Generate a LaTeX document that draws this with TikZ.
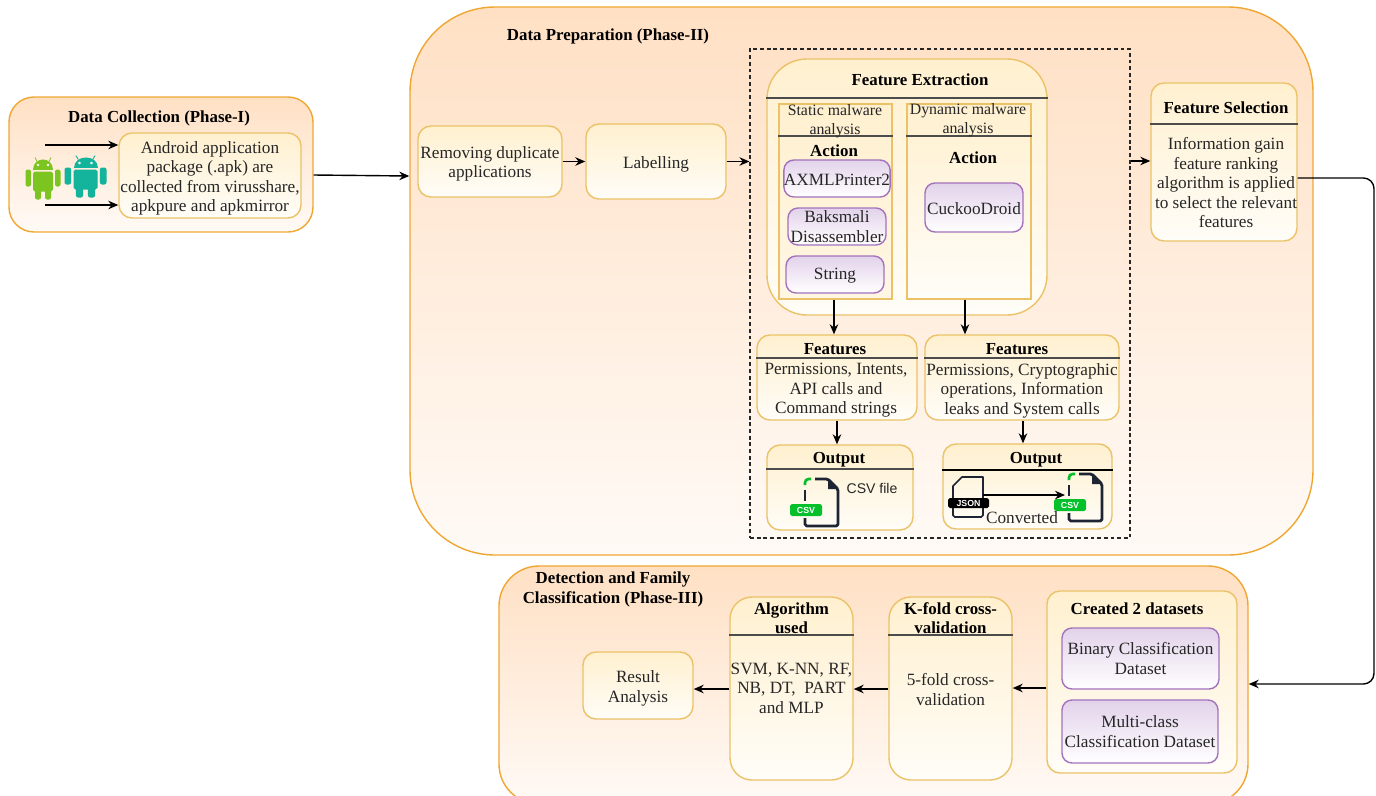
\documentclass[tikz,border=0pt]{standalone}
\usepackage{fontspec}
\setmainfont{Liberation Serif}
\setsansfont{Liberation Sans}
\usetikzlibrary{arrows.meta}

\definecolor{phaseline}{HTML}{F0A732}
\definecolor{phasetop}{HTML}{FFE0C4}
\definecolor{phasebottom}{HTML}{FFFAF6}
\definecolor{stepline}{HTML}{EBC268}
\definecolor{steptop}{HTML}{FFF0CF}
\definecolor{stepbottom}{HTML}{FFFDF8}
\definecolor{toolline}{HTML}{A472BC}
\definecolor{tooltop}{HTML}{E2D2EA}
\definecolor{badgegreen}{HTML}{05C02B}
\definecolor{docdark}{HTML}{1D2433}
\definecolor{droidgreen}{HTML}{7CC41F}
\definecolor{droidteal}{HTML}{14B39B}
\definecolor{bodytext}{HTML}{262626}

\tikzset{
  boxsize/.style 2 args={minimum width=#1*0.02cm,minimum height=#2*0.02cm},
  phasebox/.style={draw=phaseline,line width=0.8pt,top color=phasetop,bottom color=phasebottom,rounded corners=#1},
  phasebox/.default=0.5cm,
  stepbox/.style={draw=stepline,line width=0.8pt,top color=steptop,bottom color=stepbottom,rounded corners=#1,inner sep=0pt},
  stepbox/.default=0.26cm,
  toolbox/.style={draw=toolline,line width=0.8pt,top color=tooltop,bottom color=white,rounded corners=0.2cm,
    inner sep=0pt,align=center,text=bodytext,font=\fontsize{9.8}{11.1}\selectfont,
    execute at begin node={\rule{0pt}{7.9pt}}},
  title/.style={inner sep=0pt,align=center,yshift=-0.03cm,font=\fontsize{9.6}{11.1}\selectfont\bfseries},
  bodytxt/.style={inner sep=0pt,align=center,yshift=-0.02cm,text=bodytext,font=\fontsize{9.8}{11.1}\selectfont},
  headline/.style={draw=black!70,line width=0.8pt},
  flow/.style={draw=black,line width=0.8pt,-{Stealth[length=2mm,width=1.7mm]}},
  badge/.style={rounded corners=1pt,inner sep=0pt,text=white,font=\sffamily\bfseries\fontsize{5}{5}\selectfont}
}

\begin{document}
\begin{tikzpicture}[x=0.02cm,y=-0.02cm]
    \useasboundingbox (0,0) rectangle (1376,795);

    % The three phases
    \node[phasebox,boxsize={304}{135}] (phaseone) at (161,164.5) {};
    \node[phasebox=1.7cm,boxsize={903}{548}] (phasetwo) at (861.5,281) {};
    \node[phasebox=0.8cm,boxsize={749}{238}] (phasethree) at (873.5,685) {};
    \node[title] (titleone) at (159,117) {Data Collection (Phase-I)};
    \node[title] (titletwo) at (608,35) {Data Preparation (Phase-II)};
    \node[title] (titlethree) at (613,588) {Detection and Family\\Classification (Phase-III)};

    % Phase I
    \node[stepbox,boxsize={182}{85}] (apk) at (210,175.5) {};
    \node[bodytxt] (apktxt) at (210,177.5)
    {Android application\\package (.apk) are\\collected from virusshare,\\apkpure and apkmirror};
    \coordinate (droidup) at (45,145);
    \coordinate (droiddown) at (45,205);
    \draw[flow] (droidup) -- (apk.west|-droidup);
    \draw[flow] (droiddown) -- (apk.west|-droiddown);
    % the two android robots
    \foreach \cx/\cy/\sc/\col in {43/178.5/1/droidgreen, 85.5/176.5/1.2/droidteal} {
      \begin{scope}[shift={(\cx,\cy)},xscale=\sc]
        \fill[\col] (-10,-9) .. controls (-10,-23) and (10,-23) .. (10,-9) -- cycle;
        \draw[\col,line width=0.5pt] (-6,-17) -- (-8,-21) (6,-17) -- (8,-21);
        \fill[\col,rounded corners=1pt] (-10,-7) rectangle (10,13);
        \fill[\col,rounded corners=1.2pt] (-17.5,-9) rectangle (-12,8) (12,-9) rectangle (17.5,8);
        \fill[\col,rounded corners=1.2pt] (-8,10) rectangle (-2,21) (2,10) rectangle (8,21);
        \fill[white] (-5,-13.5) circle (1.3) (5,-13.5) circle (1.3);
      \end{scope}
    }

    % Phase II, the first two steps
    \node[stepbox,boxsize={144}{71}] (removing) at (490,161.5) {};
    \node[bodytxt] (removingtxt) at (490,163) {Removing duplicate\\applications};
    \node[stepbox,boxsize={140}{75}] (labelling) at (656,161.5) {};
    \node[bodytxt] (labellingtxt) at (656,163) {Labelling};
    \node[draw=black!85,dash pattern=on 2.2pt off 1.6pt,line width=0.6pt,boxsize={380}{489}] (dashed) at (940,293.5) {};

    % Feature extraction with its two columns
    \node[stepbox=0.8cm,boxsize={280}{256}] (extraction) at (907,187) {};
    \node[title] (extractiontitle) at (920,78) {Feature Extraction};
    \draw[headline] (extraction.west|-0,98) -- (extraction.east|-0,98);
    \node[stepbox=0cm,boxsize={113}{195},top color=steptop,bottom color=steptop!55] (static) at (835.5,201.5) {};
    \node[stepbox=0cm,boxsize={124}{195}] (dynamic) at (969,201.5) {};
    \draw[headline] (static.west|-0,136) -- (static.east|-0,136);
    \draw[headline] (dynamic.west|-0,136) -- (dynamic.east|-0,136);
    \node[bodytxt,font=\fontsize{9}{10.5}\selectfont] (statictitle) at (835,120) {Static malware\\analysis};
    \node[bodytxt,font=\fontsize{9}{10.5}\selectfont] (dynamictitle) at (968,119) {Dynamic malware\\analysis};
    \node[title] (staticaction) at (834,149) {Action};
    \node[title] (dynamicaction) at (973,156) {Action};
    \node[toolbox,boxsize={102}{37}] (axml) at (837,178.5) {AXMLPrinter2};
    \node[toolbox,boxsize={98}{37}] (baksmali) at (837,226.5) {Baksmali\\Disassembler};
    \node[toolbox,boxsize={98}{37}] (string) at (835,274.5) {String};
    \node[toolbox,boxsize={98}{49}] (cuckoo) at (974,207.5) {CuckooDroid};

    % Features and output
    \node[stepbox,boxsize={160}{85}] (featone) at (837,377.5) {};
    \node[stepbox,boxsize={194}{85}] (feattwo) at (1022,377.5) {};
    \draw[headline] (featone.west|-0,358) -- (featone.east|-0,358);
    \draw[headline] (feattwo.west|-0,358) -- (feattwo.east|-0,358);
    \node[title] (featonetitle) at (835,348) {Features};
    \node[title] (feattwotitle) at (1017,348) {Features};
    \node[bodytxt] (featonetxt) at (836,389.5) {Permissions, Intents,\\API calls and\\Command strings};
    \node[bodytxt] (feattwotxt) at (1022,389.5) {Permissions, Cryptographic\\operations, Information\\leaks and System calls};
    \node[stepbox,boxsize={146}{85}] (outone) at (840,487.5) {};
    \node[stepbox,boxsize={169}{85}] (outtwo) at (1027.5,486.5) {};
    \draw[headline] (outone.west|-0,469) -- (outone.east|-0,469);
    \draw[headline,draw=black] (outtwo.west|-0,470) -- (outtwo.east|-0,470);
    \node[title] (outonetitle) at (839,458) {Output};
    \node[title] (outtwotitle) at (1036,458) {Output};
    \node[bodytxt,font=\sffamily\fontsize{8}{9}\selectfont] (csvtxt) at (872,487) {CSV file};

    % the csv files
    \foreach \nm/\ox/\oy in {csvone/805/479, csvtwo/1069/474} {
      \begin{scope}[shift={(\ox,\oy)}]
        \draw[badgegreen,line width=1.5pt,rounded corners=2pt] (0,6) -- (0,0) -- (6,0);
        \draw[docdark,line width=1.6pt,line join=round,rounded corners=1pt] (10,0) -- (23,0) -- (33,10) -- (33,47) -- (0,47) -- (0,39);
        \draw[docdark,line width=1.6pt] (0,11) -- (0,22);
        \fill[docdark] (23,0) -- (33,10) -- (23,10) -- cycle;
        \node[badge,fill=badgegreen,boxsize={32}{12}] (\nm) at (1,31) {CSV};
      \end{scope}
    }
    % the json file
    \draw[docdark,line width=0.9pt,line join=round] (983,498) -- (983,477) -- (962,477) -- (953,486) -- (953,498);
    \draw[docdark,line width=0.9pt,rounded corners=1pt] (983,508) -- (983,517) -- (953,517) -- (953,508);
    \node[badge,fill=black,boxsize={41}{10}] (json) at (968.5,503) {JSON};
    \coordinate (jsonside) at (983,495);
    \coordinate (csvside) at (1065,495);
    \draw[flow] (jsonside) -- (csvside);
    \node[bodytxt] (converted) at (1022,517) {Converted};

    % Feature selection
    \node[stepbox,boxsize={146}{158}] (selection) at (1224,162) {};
    \draw[headline] (selection.west|-0,124) -- (selection.east|-0,124);
    \node[title] (selectiontitle) at (1226,106) {Feature Selection};
    \node[bodytxt] (selectiontxt) at (1226,182) {Information gain\\feature ranking\\algorithm is applied\\to select the relevant\\features};

    % Phase III
    \node[stepbox,boxsize={190}{182}] (created) at (1142,682) {};
    \node[title] (createdtitle) at (1137,607) {Created 2 datasets};
    \node[toolbox,boxsize={157}{61}] (binary) at (1140.5,658.5) {Binary Classification\\Dataset};
    \node[toolbox,boxsize={156}{63}] (multi) at (1140,731.5) {Multi-class\\Classification Dataset};
    \foreach \nm/\cx/\titletxt/\bodyy/\bodytx in {
      kfold/950.5/{K-fold cross-\\validation}/688.5/{5-fold cross-\\validation},
      algorithm/791.5/{Algorithm\\used}/687/{SVM, K-NN, RF,\\NB, DT,\ \ PART\\and MLP}} {
      \node[stepbox=0.44cm,boxsize={123}{183}] (\nm) at (\cx,688.5) {};
      \draw[headline] (\nm.west|-0,635) -- (\nm.east|-0,635);
      \node[title] (\nm title) at (\cx,616.5) {\titletxt};
      \node[bodytxt] (\nm txt) at (\cx,\bodyy) {\bodytx};
    }
    \node[stepbox,boxsize={110}{67}] (result) at (638,685.5) {};
    \node[bodytxt] (resulttxt) at (638,687.5) {Result\\Analysis};

    % connectors
    \draw[flow] (phaseone.east|-0,175) -- (phasetwo.west|-0,176);
    \draw[flow] (removing.east) -- (labelling.west|-removing.east);
    \draw[flow] (labelling.east) -- (dashed.west|-labelling.east);
    \draw[flow] (dashed.east|-0,161) -- (selection.west|-0,161);
    \draw[flow] (834,0|-static.south) -- (834,0|-featone.north);
    \draw[flow] (965,0|-dynamic.south) -- (965,0|-feattwo.north);
    \draw[flow] (837,0|-featone.south) -- (837,0|-outone.north);
    \draw[flow] (1023,0|-feattwo.south) -- (1023,0|-outtwo.north);
    \coordinate (bend) at (1374,178);
    \draw[flow,rounded corners=6pt] (selection.east|-bend) -- (bend) -- (bend|-0,684) -- (phasethree.east|-0,684);
    \draw[flow] (created.west|-0,688) -- (kfold.east|-0,688);
    \draw[flow] (kfold.west|-0,689) -- (algorithm.east|-0,689);
    \draw[flow] (algorithm.west|-0,689) -- (result.east|-0,689);
  \end{tikzpicture}
\end{document}
